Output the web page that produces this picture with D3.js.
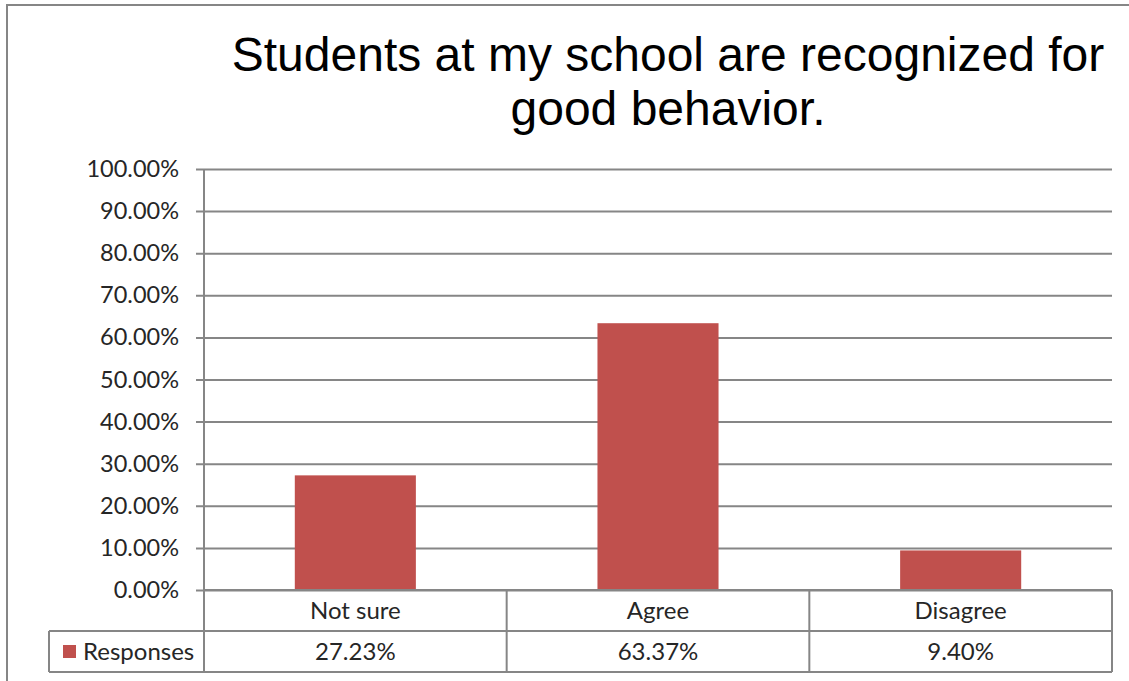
<!DOCTYPE html>
<html><head><meta charset="utf-8">
<script src="https://cdn.jsdelivr.net/npm/d3@7"></script>
<style>body{margin:0;background:#fff}svg{display:block}</style>
</head><body>
<svg id="c" width="1129" height="681"></svg>
<script>
const categories = ["Not sure", "Agree", "Disagree"];
const values = [0.2723, 0.6337, 0.0940];
const valueLabels = ["27.23%", "63.37%", "9.40%"];
const seriesName = "Responses";
const yTicks = [0, 0.1, 0.2, 0.3, 0.4, 0.5, 0.6, 0.7, 0.8, 0.9, 1.0];
const titleLines = ["Students at my school are recognized for", "good behavior."];

(function () {
const svg = d3.select("#c");
const gridColor = "#868686";
const barColor = "#C0504D";
const pLeft = 204, pRight = 1112, pTop = 169, pBottom = 590;
const row1 = 631, row2 = 672, legendLeft = 49;
const tf = "Lato, Open Sans, sans-serif";

// outer border
svg.append("rect").attr("x", 7).attr("y", 5).attr("width", 1140).attr("height", 700)
  .attr("fill", "none").attr("stroke", gridColor).attr("stroke-width", 2);

// title
svg.append("g").selectAll("text").data(titleLines).join("text")
  .attr("x", 668).attr("y", (d, i) => 71 + i * 54)
  .attr("text-anchor", "middle")
  .attr("font-family", "Liberation Sans, Arial, sans-serif")
  .attr("font-size", 48).attr("fill", "#000").text(d => d);

const x = d3.scaleBand().domain(categories).range([pLeft, pRight]).paddingInner(0).paddingOuter(0);
const y = d3.scaleLinear().domain([0, 1]).range([pBottom, pTop]);

// gridlines + ticks
const yAxis = d3.axisLeft(y).tickValues(yTicks).tickFormat(d3.format(".2%"))
  .tickSize(-(pRight - pLeft)).tickPadding(25);
const gy = svg.append("g").attr("transform", `translate(${pLeft},0)`).call(yAxis);
gy.select(".domain").remove();
gy.selectAll(".tick line").attr("stroke", gridColor).attr("stroke-width", 2).attr("x1", -8);
gy.selectAll(".tick text").attr("font-family", tf)
  .attr("font-size", 23.5).attr("fill", "#262626");

// bars
svg.append("g").selectAll("rect").data(values).join("rect")
  .attr("x", (d, i) => x(categories[i]) + x.bandwidth() * 0.3)
  .attr("width", x.bandwidth() * 0.4)
  .attr("y", d => y(d)).attr("height", d => y(0) - y(d))
  .attr("fill", barColor);

// vertical axis line
svg.append("line").attr("x1", pLeft).attr("x2", pLeft).attr("y1", pTop).attr("y2", row2)
  .attr("stroke", gridColor).attr("stroke-width", 2);

// data table
const tg = svg.append("g").attr("stroke", gridColor).attr("stroke-width", 2);
tg.append("line").attr("x1", pLeft).attr("x2", pRight).attr("y1", pBottom).attr("y2", pBottom);
tg.append("line").attr("x1", legendLeft).attr("x2", pRight).attr("y1", row1).attr("y2", row1);
tg.append("line").attr("x1", legendLeft).attr("x2", pRight).attr("y1", row2).attr("y2", row2);
tg.append("line").attr("x1", legendLeft).attr("x2", legendLeft).attr("y1", row1).attr("y2", row2);
tg.selectAll(".v").data(categories).join("line").attr("class", "v")
  .attr("x1", d => x(d) + x.bandwidth()).attr("x2", d => x(d) + x.bandwidth())
  .attr("y1", pBottom).attr("y2", row2);

svg.append("g").selectAll("text").data(categories).join("text")
  .attr("x", d => x(d) + x.bandwidth() / 2).attr("y", (pBottom + row1) / 2 + 8)
  .attr("text-anchor", "middle").attr("font-family", tf).attr("font-size", 24).attr("fill", "#262626")
  .text(d => d);
svg.append("g").selectAll("text").data(valueLabels).join("text")
  .attr("x", (d, i) => x(categories[i]) + x.bandwidth() / 2).attr("y", (row1 + row2) / 2 + 8)
  .attr("text-anchor", "middle").attr("font-family", tf).attr("font-size", 24).attr("fill", "#262626")
  .text(d => d);

svg.append("rect").attr("x", 63).attr("y", 645).attr("width", 13).attr("height", 13).attr("fill", barColor);
svg.append("text").attr("x", 83).attr("y", (row1 + row2) / 2 + 8)
  .attr("font-family", tf).attr("font-size", 24).attr("fill", "#262626").text(seriesName);
})();
</script>
</body></html>
